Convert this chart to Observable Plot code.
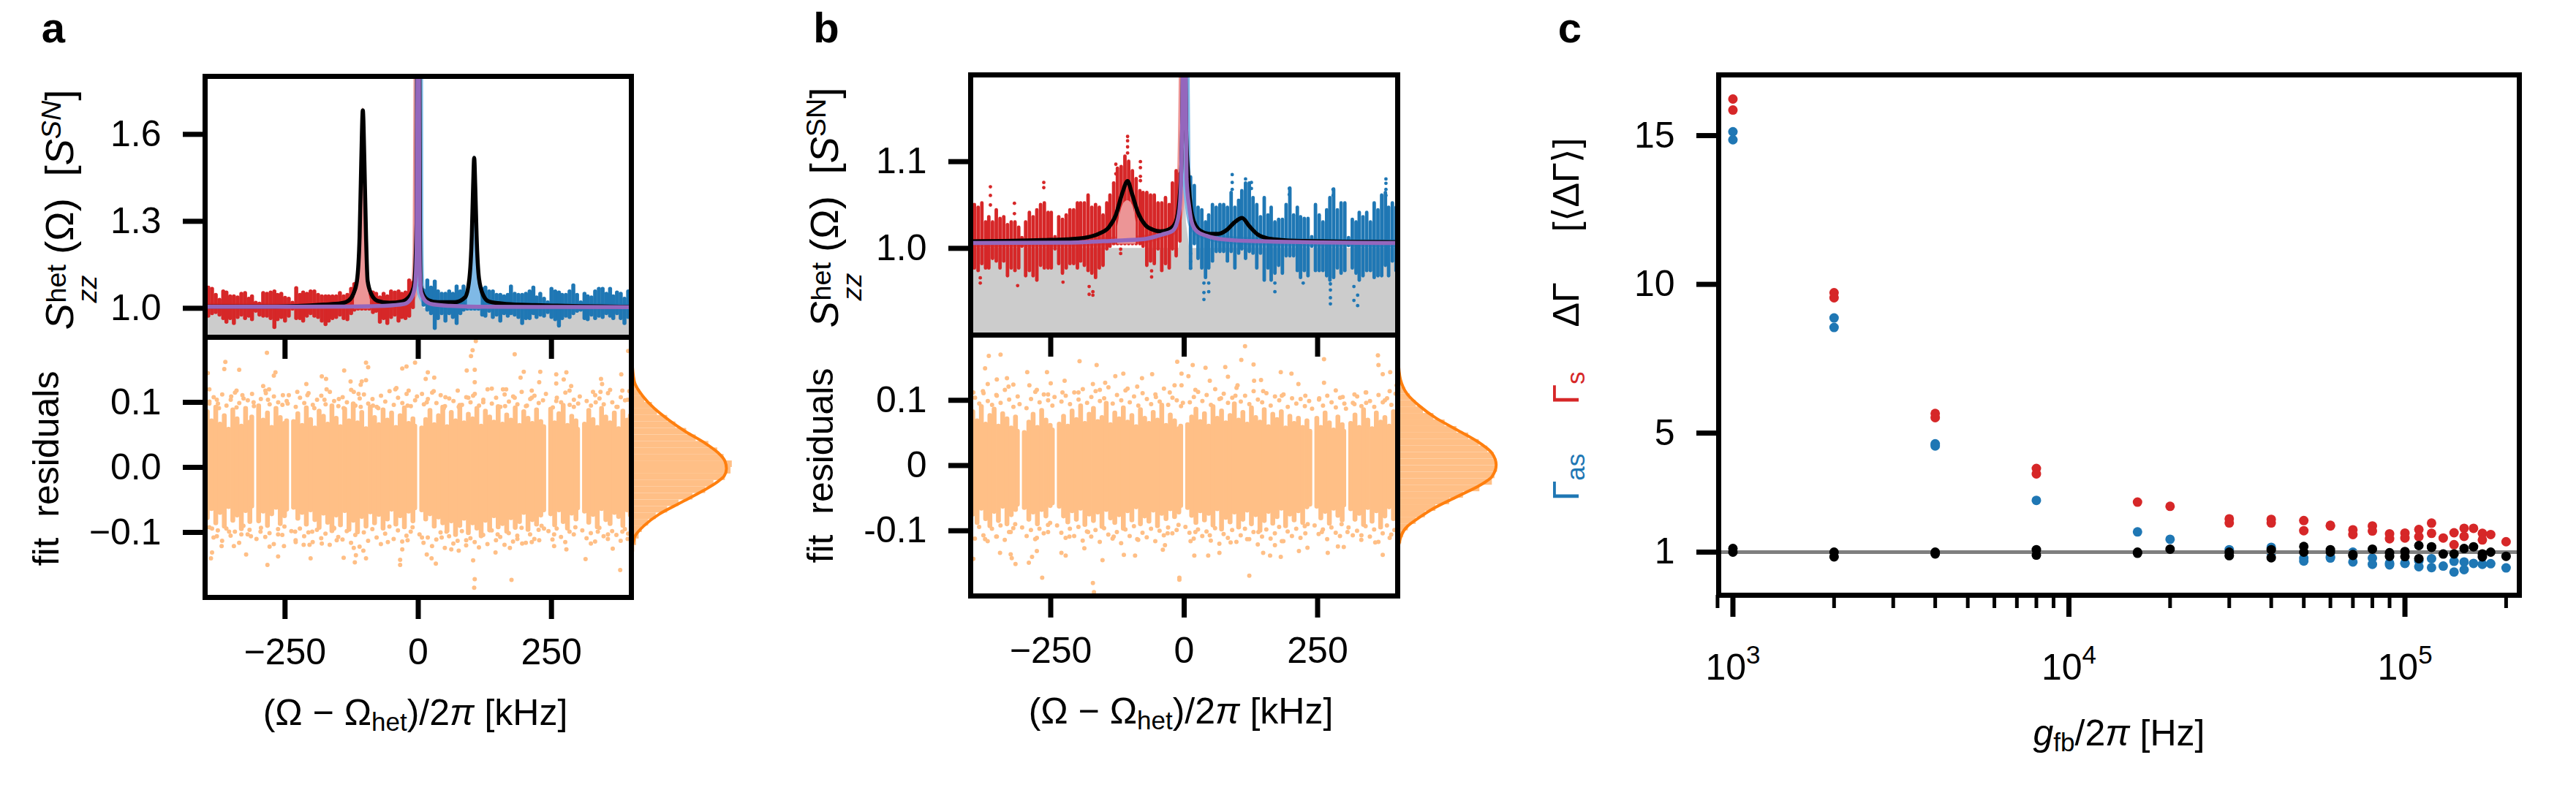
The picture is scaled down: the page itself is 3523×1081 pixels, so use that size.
<!DOCTYPE html>
<html><head><meta charset="utf-8">
<script src="https://cdn.jsdelivr.net/npm/d3@7"></script>
<script src="https://cdn.jsdelivr.net/npm/@observablehq/plot@0.6"></script>
<style>
html,body{margin:0;padding:0;background:#fff}
#fig{position:relative;width:3523px;height:1081px;overflow:hidden;font-family:"Liberation Sans",Arial,sans-serif;color:#000}
.t{position:absolute;height:0;line-height:0;white-space:pre;transform-origin:0 0}
.ss{display:inline-block;position:relative;width:1.25em;height:0}
.ss .u,.ss .d{position:absolute;left:.02em;font-size:.7em;line-height:0}
.ss .u{top:-.62em}.ss .d{top:.5em}
.sb{position:relative;top:.22em;font-size:.7em;line-height:0}
.sp{position:relative;top:-.45em;font-size:.7em;line-height:0}
</style></head><body><div id="fig"></div>
<script>
// ---------- panel a: spectrum envelope
const aRedX=[-394,-387,-380,-373,-366,-360,-353,-346,-339,-332,-325,-318,-312,-305,-298,-291,-284,-277,-270,-264,-257,-250,-243,-236,-229,-222,-216,-209,-202,-195,-188,-181,-174,-168,-161,-154,-147,-140,-133,-126,-120,-113,-106,-99,-92,-85,-79,-72,-65,-58,-51,-44,-37,-31,-24,-17,-10];
const aRedHi=[1.070,1.066,1.045,1.028,1.057,1.053,1.040,1.040,1.036,1.049,1.051,1.032,1.040,1.018,1.015,1.051,1.049,1.053,1.057,1.045,1.049,1.035,1.032,1.018,1.068,1.045,1.053,1.049,1.057,1.057,1.045,1.040,1.040,1.040,1.040,1.040,1.051,1.040,1.045,1.066,1.082,1.05,1.05,1.05,1.061,1.053,1.049,1.036,1.049,1.040,1.057,1.053,1.057,1.049,1.053,1.095,1.087];
const aRedLo=[.973,.982,.986,.977,.965,.952,.965,.948,.969,.977,.965,.973,.961,.990,.977,.973,.973,.965,.934,.961,.969,.956,.973,.998,.965,.965,.956,.973,.982,.973,.969,.956,.944,.956,.965,.969,.977,.965,.961,.982,.994,.998,.998,.998,.998,.986,.990,.952,.965,.948,.969,.977,.956,.969,.965,.973,1.003];
const aBlueX=[10,17,24,31,37,44,51,58,65,72,79,85,92,99,106,113,120,126,133,140,147,154,161,168,174,181,188,195,202,209,216,222,229,236,243,250,257,264,270,277,284,291,298,305,312,318,325,332,339,346,353,360,366,373,380,387,394];
const aBlueHi=[1.061,1.095,1.070,1.091,1.057,1.049,1.049,1.057,1.049,1.074,1.057,1.074,1.05,1.05,1.05,1.05,1.066,1.070,1.057,1.057,1.045,1.045,1.040,1.045,1.074,1.049,1.045,1.045,1.049,1.057,1.070,1.036,1.049,1.032,1.019,1.066,1.057,1.053,1.045,1.045,1.057,1.078,1.045,1.019,1.049,1.040,1.036,1.057,1.066,1.066,1.049,1.066,1.040,1.053,1.049,1.032,1.057];
const aBlueLo=[1.011,.994,.982,.931,.965,.982,.956,.982,.969,.948,.982,.994,.998,.998,.998,.998,.977,.973,.990,.969,.977,.956,.982,.973,.982,.977,.969,.948,.965,.965,.982,.969,.977,.973,.986,.969,.961,.939,.965,.973,.969,.982,.990,.994,.965,.961,.977,.965,.973,.969,.982,.973,.965,.982,.965,.948,.969];
// ---------- panel b: spectrum envelope and outlying points
const bRedX=[-393,-386,-379,-372,-366,-359,-352,-345,-338,-331,-324,-317,-310,-304,-297,-290,-283,-276,-269,-262,-255,-249,-242,-235,-228,-221,-214,-207,-200,-194,-187,-180,-173,-166,-159,-152,-145,-139,-132,-125,-118,-111,-104,-97,-90,-83,-77,-70,-63,-56,-49,-42,-35,-28,-22,-15,-8];
const bRedHi=[1.050,1.047,1.052,1.030,1.036,1.030,1.044,1.034,1.036,1.027,1.030,1.030,1.024,1.012,1.030,1.041,1.036,1.044,1.050,1.052,1.041,1.041,1.013,1.036,1.033,1.038,1.044,1.044,1.052,1.052,1.052,1.061,1.047,1.050,1.047,1.038,1.052,1.061,1.075,1.092,1.094,1.106,1.100,1.089,1.080,1.066,1.064,1.064,1.061,1.061,1.052,1.052,1.058,1.050,1.075,1.089,1.086];
const bRedLo=[.977,.974,.982,.977,.977,.988,.985,.977,.985,.968,.977,.974,.977,1.002,.968,.974,.968,.963,.980,.977,.977,.977,.999,.982,.971,.977,.982,.982,.977,.985,.980,.974,.971,.966,.977,.980,.999,1.002,1.005,1.005,1.005,1.005,1.005,1.005,1.005,1.005,1.002,.980,.985,.982,.999,.974,.982,.977,.999,.991,1.008];
const bRedDotX=[-363,-363,-363,-382,-382,-263,-263,-318,-318,-128,-128,-82,-82,-82,-82,-106,-106,-106,-106,-171,-171,-178,-178,-312,-61,-61,-227,-119,-119];
const bRedDotY=[1.071,1.061,1.050,.960,.966,1.076,1.070,1.052,1.040,1.097,1.086,1.100,1.093,1.083,1.078,1.129,1.124,1.117,1.110,.946,.950,.947,.956,.957,.967,.974,.961,.999,.994];
const bBlueX=[12,19,26,33,40,46,53,60,67,74,81,88,95,102,108,115,122,129,136,143,150,157,163,170,177,184,191,198,205,212,218,225,232,239,246,253,260,267,273,280,287,294,301,308,315,322,328,335,342,349,356,363,370,377,383,390,397];
const bBlueHi=[1.082,1.072,1.047,1.044,1.030,1.038,1.050,1.047,1.050,1.050,1.047,1.064,1.047,1.055,1.066,1.075,1.075,1.058,1.050,1.036,1.058,1.038,1.047,1.030,1.033,1.033,1.050,1.069,1.038,1.047,1.036,1.034,1.034,1.013,1.050,1.038,1.030,1.044,1.058,1.068,1.044,1.052,1.052,1.012,1.033,1.030,1.041,1.036,1.041,1.030,1.052,1.044,1.061,1.064,1.047,1.052,1.047];
const bBlueLo=[.977,1.005,.988,.977,.966,.977,.985,.996,.996,.996,.985,.996,.977,.994,.999,.988,.996,.994,.977,.994,.963,.977,.963,.971,.980,.971,.991,.991,.991,.974,.966,.974,.968,1.002,.974,.974,.974,.968,.963,.966,.977,.971,.974,1.003,.977,.971,.963,.968,.974,.974,.966,.968,.968,.980,.968,.985,.974];
const bBlueDotX=[90,90,90,37,37,37,46,46,170,170,274,274,274,274,325,325,318,318,197,197,378,378,378,378,279,279,115,126,126,12,12,12,223];
const bBlueDotY=[1.085,1.076,1.068,.941,.949,.960,.950,.960,.950,.960,.936,.943,.952,.959,.934,.946,.940,.956,1.069,1.062,1.080,1.075,1.068,1.061,1.068,1.061,1.080,1.076,1.069,.994,.985,.977,.960];
// ---------- fitted curves
const aBlackX=[-400,-268,-177,-145,-131,-122,-115,-110,-107,-104,-101,-98,-95,-88,-77,-54,-31,-17,-8,-3,0,3,4.6,10,19,37,69,88,96,100.5,103,105,107,109.5,114,122,133,165,220,400];
const aBlackY=[1.006,1.006,1.0126,1.017,1.026,1.049,1.095,1.25,1.5,1.683,1.5,1.25,1.095,1.049,1.026,1.019,1.023,1.04,1.078,1.3,3,1.3,1.078,1.045,1.028,1.021,1.021,1.038,1.103,1.25,1.42,1.519,1.42,1.25,1.103,1.045,1.023,1.015,1.011,1.005];
const aFitX=[-400,-131,-63,-26,-13,-6,-3,-1,0,1,2,3.2,5.5,14.6,28,60,129,400];
const aFitY=[1.005,1.006,1.0085,1.015,1.0345,1.078,1.2,1.9,3,2.2,1.3,1.11,1.053,1.0234,1.0134,1.0083,1.005,1.004];
const bBlackX=[-400,-265,-219,-183,-160,-141,-128,-116,-106,-98,-86.5,-73,-59,-45,-31.6,-20,-13.3,-8.7,-5,-2,0,2,4,7.3,11.9,18.8,30.2,46.2,64.5,80.5,94.3,108.6,121.7,137.7,156,179,224.7,400];
const bBlackY=[1.008,1.0095,1.0104,1.0126,1.0168,1.0244,1.0384,1.0636,1.0776,1.0636,1.0412,1.0271,1.0216,1.0196,1.021,1.0258,1.0355,1.058,1.1,1.25,1.6,1.25,1.13,1.086,1.0496,1.03,1.0202,1.0168,1.0168,1.0216,1.03,1.035,1.0258,1.016,1.0115,1.0098,1.0084,1.007];
const bFitX=[-400,-219,-128,-73,-41,-22,-13.3,-8,-5,-2,0,2,4.5,9.6,14.2,23.3,41.6,73.7,133,400];
const bFitY=[1.0061,1.0065,1.009,1.0109,1.016,1.02,1.03,1.05,1.1,1.25,1.6,1.25,1.08,1.047,1.03,1.02,1.0145,1.0103,1.0082,1.0061];
const grayAX=[-400,-10,-5,-2,0,2,5,10,400], grayAY=[1,1,1.05,1.4,3,1.4,1.05,1,1];
const grayBX=[-400,-10,-4,-1.5,0,1.5,4,10,400], grayBY=[1,1,1.03,1.1,1.3,1.1,1.03,1,1];
const paleARedX=[-120,-115,-110,-107,-104,-101,-98,-95,-90], paleARedY=[1.03,1.1,1.27,1.52,1.694,1.52,1.27,1.1,1.03];
const paleABlueX=[92,96,100.5,103,105,107,109.5,114,118], paleABlueY=[1.03,1.11,1.27,1.44,1.527,1.44,1.27,1.11,1.03];
const paleBRedX=[-125,-115,-106,-97,-90], paleBRedY=[1.025,1.05,1.055,1.05,1.03];
// ---------- residual scatter: dense columns and the points read around them
const resColX=[-396,-388,-380,-372,-364,-356,-348,-340,-332,-324,-316,-312.5,-299.5,-291,-283,-275,-267,-259,-251,-247,-234,-226,-218,-210,-202,-194,-186,-178,-170,-162,-154,-146,-138,-130,-122,-114,-106,-98,-90,-82,-74,-66,-58,-50,-42,-34,-26,-18,-10,-6.5,6.5,14,22,30,38,46,54,62,70,78,86,94,102,110,118,126,134,142,150,158,166,174,182,190,198,206,214,222,230,235.5,248.5,256,264,272,280,288,296,299,312,320,328,336,344,352,360,368,376,384,392,398];
const colAHi=[.085,.071,.092,.066,.079,.058,.088,.074,.063,.090,.069,.077,.094,.072,.083,.061,.090,.076,.067,.071,.070,.082,.064,.091,.073,.060,.086,.078,.066,.094,.075,.062,.089,.071,.097,.068,.084,.059,.092,.076,.065,.088,.072,.083,.061,.079,.091,.067,.074,.063,.060,.073,.087,.065,.079,.092,.062,.084,.071,.095,.068,.081,.074,.090,.063,.086,.077,.069,.093,.066,.080,.072,.091,.064,.085,.075,.067,.088,.070,.062,.089,.068,.082,.095,.064,.078,.071,.058,.066,.087,.073,.061,.090,.077,.068,.083,.059,.086,.072,.079];
const colALo=[-.078,-.064,-.086,-.070,-.091,-.061,-.082,-.074,-.095,-.067,-.084,-.060,-.083,-.068,-.090,-.072,-.062,-.087,-.075,-.065,-.062,-.079,-.070,-.088,-.066,-.081,-.093,-.071,-.085,-.098,-.074,-.089,-.067,-.096,-.082,-.100,-.076,-.091,-.069,-.086,-.073,-.094,-.080,-.065,-.088,-.075,-.092,-.068,-.083,-.063,-.066,-.080,-.072,-.091,-.077,-.086,-.098,-.083,-.104,-.090,-.079,-.101,-.086,-.094,-.106,-.082,-.097,-.075,-.092,-.087,-.099,-.078,-.093,-.084,-.070,-.096,-.081,-.088,-.074,-.066,-.072,-.089,-.066,-.084,-.094,-.071,-.080,-.063,-.068,-.085,-.073,-.092,-.064,-.081,-.087,-.070,-.076,-.090,-.066,-.074];
const colBHi=[.082,.068,.090,.063,.076,.086,.060,.079,.071,.057,.074,.052,.050,.066,.078,.058,.084,.069,.061,.054,.063,.075,.060,.083,.070,.091,.064,.078,.087,.067,.073,.095,.062,.080,.071,.088,.066,.076,.059,.085,.072,.064,.081,.069,.092,.061,.077,.068,.056,.060,.062,.074,.086,.067,.079,.060,.090,.072,.083,.065,.076,.094,.069,.081,.063,.088,.073,.066,.085,.059,.078,.070,.082,.057,.075,.064,.072,.058,.068,.052,.072,.058,.080,.065,.054,.074,.062,.052,.064,.077,.058,.085,.069,.056,.080,.066,.073,.060,.082,.071];
const colBLo=[-.075,-.088,-.066,-.082,-.093,-.071,-.085,-.063,-.090,-.076,-.068,-.060,-.065,-.083,-.072,-.090,-.068,-.078,-.062,-.058,-.063,-.078,-.087,-.070,-.083,-.066,-.091,-.075,-.085,-.072,-.094,-.068,-.081,-.088,-.076,-.097,-.070,-.084,-.064,-.090,-.078,-.086,-.069,-.093,-.074,-.082,-.067,-.079,-.072,-.062,-.065,-.077,-.088,-.070,-.084,-.074,-.092,-.067,-.098,-.080,-.087,-.072,-.095,-.083,-.069,-.090,-.076,-.100,-.085,-.071,-.089,-.079,-.066,-.093,-.075,-.084,-.070,-.088,-.064,-.060,-.063,-.081,-.071,-.089,-.066,-.077,-.084,-.061,-.067,-.083,-.074,-.091,-.065,-.086,-.070,-.095,-.078,-.064,-.082,-.072];
const fringeAUp=[.101,.108,.098,.112,.095,.104,.115,.099,.106,.103,.113,.094,.105,.118,.097,.109,.100,.096,.102,.111,.093,.107,.099,.114,.096,.104,.110,.097,.116,.102,.094,.108,.100,.119,.095,.106,.112,.098,.105,.093,.110,.101,.117,.096,.107,.099,.113,.094,.103,.109,.097,.105,.115,.099,.111,.094,.106,.102,.118,.096,.108,.100,.113,.095,.104,.120,.098,.107,.093,.112,.101,.109,.097,.116,.094,.105,.110,.099,.103,.113,.092,.107,.100,.115,.096,.104,.098,.109,.102,.095,.111,.106,.097,.114,.100,.093,.108,.103,.117,.098];
const fringeALo=[-.101,-.092,-.108,-.097,-.113,-.094,-.105,-.099,-.116,-.090,-.103,-.096,-.110,-.093,-.107,-.101,-.118,-.095,-.104,-.091,-.098,-.112,-.094,-.106,-.100,-.115,-.096,-.109,-.102,-.119,-.093,-.107,-.111,-.098,-.116,-.104,-.122,-.100,-.113,-.095,-.108,-.118,-.102,-.091,-.110,-.097,-.114,-.105,-.099,-.092,-.103,-.116,-.108,-.121,-.111,-.100,-.124,-.106,-.117,-.113,-.098,-.120,-.109,-.115,-.123,-.104,-.118,-.097,-.112,-.107,-.119,-.101,-.114,-.105,-.093,-.116,-.103,-.110,-.096,-.090,-.098,-.111,-.094,-.107,-.115,-.099,-.103,-.092,-.097,-.109,-.101,-.114,-.093,-.106,-.110,-.098,-.104,-.113,-.095,-.102];
const fringeBUp=[.104,.095,.111,.099,.093,.108,.096,.116,.101,.090,.106,.094,.088,.102,.113,.097,.109,.100,.092,.105,.098,.107,.094,.112,.101,.117,.096,.105,.114,.099,.103,.120,.095,.108,.100,.115,.097,.106,.092,.111,.102,.094,.109,.098,.118,.093,.104,.100,.091,.096,.097,.105,.113,.099,.108,.093,.117,.102,.110,.096,.104,.119,.098,.107,.094,.114,.101,.097,.111,.092,.106,.100,.109,.090,.103,.095,.102,.091,.099,.087,.101,.092,.107,.097,.089,.104,.095,.087,.096,.106,.091,.112,.099,.090,.108,.097,.103,.093,.110,.100];
const fringeBLo=[-.100,-.112,-.094,-.107,-.116,-.097,-.109,-.092,-.114,-.102,-.096,-.090,-.095,-.108,-.099,-.113,-.097,-.104,-.091,-.088,-.092,-.103,-.111,-.097,-.108,-.094,-.115,-.101,-.109,-.099,-.117,-.096,-.106,-.112,-.102,-.119,-.098,-.108,-.093,-.114,-.103,-.110,-.097,-.116,-.100,-.107,-.095,-.104,-.099,-.091,-.094,-.103,-.112,-.098,-.108,-.101,-.115,-.096,-.120,-.105,-.111,-.099,-.117,-.107,-.097,-.113,-.102,-.121,-.109,-.098,-.112,-.104,-.094,-.116,-.101,-.108,-.097,-.111,-.093,-.090,-.092,-.105,-.098,-.113,-.095,-.103,-.108,-.090,-.095,-.107,-.100,-.114,-.093,-.109,-.098,-.117,-.104,-.092,-.106,-.099];
const resAX=[-284,-362,-364,-336,-395,-268,-271,-291,-280,-286,-210,-181,-173,-172,-139,-127,-98,-94,-106,-98,-108,-30,-22,-6,-41,-18,7,18,30,14,29,91,106,106,108,102,99,181,198,192,229,227,259,278,259,273,287,284,343,345,381,394,393,328,342,360,383,138,159,165,94,51,213,213,181,103,76,-43,-75,-112,-121,-149,-176,-227,-208,-254,-341,-330,-351,-378,-392,-392,-374,-341,-309,-282,-245,-195,-140,-108,-85,-20,16,48,122,163,204,259,292,333,374,-387,-369,-389,-346,-323,-279,-283,-263,-252,-230,-215,-204,-202,-181,-140,-121,-117,-119,-103,-98,-34,-34,-30,16,25,33,103,106,105,175,145,172,195,213,227,255,278,314,324,365,379,393,90,76,62,44,-387,-355,-332,-378,-314,-296,-263,-231,-199,-158,-153,-57,-20,7,53,149,186,236,255,337,356,383];
const resAY=[.176,.162,.151,.150,.145,.146,.141,.125,.120,.114,.128,.140,.136,.120,.149,.132,.161,.154,.132,.134,.127,.152,.155,.161,.122,.118,.113,.146,.138,.136,.117,.149,.150,.131,.194,.180,.171,.174,.147,.138,.147,.131,.143,.146,.129,.135,.125,.118,.136,.128,.143,.179,.104,.116,.116,.119,.118,.121,.120,.120,.107,.108,.118,.107,.107,.110,.093,.120,.091,.113,.116,.105,.104,.116,.111,.111,.118,.111,.109,.104,.120,.098,.091,.092,.100,.104,.098,.091,.091,.093,.095,.095,.100,.091,.100,.094,.095,.102,.093,.100,.093,-.131,-.121,-.140,-.121,-.134,-.122,-.150,-.137,-.121,-.115,-.119,-.119,-.140,-.117,-.139,-.124,-.135,-.146,-.128,-.140,-.142,-.150,-.126,-.134,-.140,-.148,-.143,-.172,-.185,-.173,-.131,-.124,-.117,-.115,-.112,-.121,-.126,-.141,-.117,-.125,-.158,-.110,-.112,-.128,-.126,-.108,-.094,-.099,-.103,-.106,-.106,-.099,-.103,-.099,-.099,-.094,-.112,-.115,-.112,-.108,-.099,-.103,-.110,-.094,-.103,-.099,-.103,-.099];
const resBX=[-366,-344,-373,-294,-257,-196,-164,-224,-250,-171,-148,-129,-114,-79,-60,-13,-5,8,-18,-5,16,40,48,77,82,107,114,130,100,131,144,181,201,214,262,262,284,363,364,372,386,398,297,319,341,385,-368,-351,-332,-320,-329,-395,-377,-351,-290,-276,-255,-228,-198,-158,-106,-88,-53,-27,21,69,96,148,183,227,253,319,341,376,-395,-345,-325,-323,-316,-291,-285,-276,-266,-230,-222,-187,-153,-171,-169,-113,-92,-36,-40,-9,-9,19,45,66,122,148,161,181,215,231,269,288,299,372,-373,-351,-325,-276,-255,-215,-180,-132,-88,-31,12,21,48,87,118,139,170,183,227,258,306,332,358,385];
const resBY=[.168,.170,.149,.143,.143,.160,.154,.130,.126,.125,.127,.137,.141,.134,.140,.159,.141,.137,.123,.123,.154,.150,.130,.151,.136,.162,.183,.155,.123,.130,.131,.143,.141,.125,.163,.127,.115,.169,.154,.140,.143,.123,.105,.109,.112,.114,.125,.132,.134,.124,.121,.112,.114,.107,.123,.116,.109,.112,.112,.116,.118,.121,.105,.112,.116,.103,.107,.114,.107,.107,.103,.094,.096,.100,-.143,-.134,-.136,-.142,-.151,-.149,-.140,-.131,-.172,-.134,-.138,-.127,-.145,-.180,-.194,-.137,-.138,-.122,-.129,-.172,-.175,-.138,-.138,-.134,-.169,-.134,-.138,-.140,-.131,-.126,-.134,-.124,-.125,-.137,-.113,-.109,-.102,-.111,-.102,-.109,-.102,-.109,-.113,-.104,-.116,-.102,-.107,-.118,-.113,-.102,-.122,-.116,-.104,-.102,-.102,-.107,-.118,-.111];
// ---------- marginals
const histBinsLo=[-.2,-.19,-.18,-.17,-.16,-.15,-.14,-.13,-.12,-.11,-.1,-.09,-.08,-.07,-.06,-.05,-.04,-.03,-.02,-.01,0,.01,.02,.03,.04,.05,.06,.07,.08,.09,.1,.11,.12,.13,.14,.15,.16,.17,.18,.19];
const histA=[0,.03,.03,.05,.05,.08,.12,.25,.4,.6,.85,1.35,1.95,2.85,3.75,4.85,5.85,6.5,7.4,7.85,7.95,7.3,6.8,6.1,5.1,4.35,3.5,2.85,2.05,1.65,1.05,.7,.35,.2,.12,.1,.05,.05,.03,.03];
const histB=[.02,.02,.03,.03,.03,.06,.1,.15,.3,.45,.8,1.4,2.1,2.9,3.95,5.0,6.25,7.2,7.4,7.6,7.55,7.35,6.85,6.2,5.4,4.5,3.6,2.75,1.95,1.4,.95,.6,.3,.2,.12,.06,.05,.05,.03,.02];
const kdeAR=[.199,.168,.132,.109,.091,.073,.055,.037,.023,.0095,-.002,-.013,-.022,-.036,-.054,-.072,-.09,-.108,-.131,-.187];
const kdeAD=[0,.04,.23,.92,1.79,2.94,4.27,5.83,6.81,7.38,7.5,7.33,6.81,5.65,3.92,2.19,.98,.23,.04,0];
const kdeBR=[.186,.154,.132,.109,.092,.073,.055,.037,.019,.001,-.017,-.03,-.048,-.066,-.08,-.093,-.107,-.134,-.199];
const kdeBD=[0,.07,.21,.75,1.62,2.9,4.49,6.07,7.18,7.5,7.18,6.29,4.49,2.7,1.62,.75,.28,.03,0];
// ---------- panel c
const cRedX=[1e3,1e3,2e3,2e3,4e3,4e3,8e3,8e3,16e3,2e4,3e4,3e4,4e4,4e4,5e4,5e4,6e4,6e4,7e4,7e4,8e4,8e4,9e4,9e4,1e5,1e5,11e4,11e4,12e4,12e4,13e4,14e4,14e4,15e4,15e4,16e4,17e4,17e4,18e4,2e5];
const cRedY=[16.23,15.86,9.72,9.55,5.66,5.52,3.81,3.63,2.68,2.54,2.12,1.98,2.10,1.98,2.06,1.72,1.90,1.88,1.75,1.59,1.88,1.71,1.615,1.45,1.64,1.475,1.76,1.52,1.975,1.63,1.475,1.65,1.25,1.80,1.53,1.80,1.63,1.41,1.59,1.35];
const cBlueX=[1e3,1e3,2e3,2e3,4e3,4e3,8e3,16e3,2e4,3e4,4e4,4e4,5e4,5e4,6e4,6e4,7e4,7e4,8e4,8e4,9e4,9e4,1e5,1e5,11e4,11e4,12e4,12e4,13e4,14e4,14e4,15e4,15e4,16e4,17e4,18e4,2e5];
const cBlueY=[15.13,14.86,8.87,8.55,4.64,4.57,2.74,1.68,1.43,1.08,1.16,.96,.80,.70,.84,.80,1.0,.67,.80,.59,.63,.57,.63,.62,.71,.51,.78,.48,.53,.69,.33,.67,.41,.62,.59,.61,.47];
const cBlackX=[1e3,1e3,2e3,2e3,4e3,4e3,8e3,8e3,16e3,16e3,2e4,3e4,3e4,4e4,4e4,5e4,5e4,6e4,6e4,7e4,7e4,8e4,9e4,9e4,1e5,1e5,11e4,11e4,12e4,12e4,13e4,14e4,15e4,16e4,17e4,17e4,18e4,2e5];
const cBlackY=[1.12,1.0,1.0,.84,1.0,.94,1.08,.90,1.0,.96,1.10,1.0,.88,1.08,.81,1.19,1.0,1.08,1.0,.92,.89,1.10,.98,.86,1.02,.85,1.22,.78,1.16,1.18,.935,.94,1.12,1.18,.94,.84,1.0,.86];
const cMinorTicks=[900,2e3,3e3,4e3,5e3,6e3,7e3,8e3,9e3,2e4,3e4,4e4,5e4,6e4,7e4,8e4,9e4,2e5];
const specTicks=[-250,0,250];

// ---------- helpers
const RED="#d62728",BLUE="#1f77b4",PURPLE="#9467bd",ORANGE="#ff7f0e",PALEO="#ffbf86",PALER="#ec9596",PALEB="#7fb9e6",GRAY="#cccccc";
const FONT='"Liberation Sans",Arial,sans-serif';
const fig=document.getElementById("fig");
const xy=(xs,ys)=>xs.map((x,i)=>({x,y:ys[i]}));
const env=(xs,hi,lo)=>xs.map((x,i)=>({x,hi:hi[i],lo:lo[i]}));
function put(opts,L,T,W,H,mL=210,mR=12,mT=12,mB=50){
  const svg=Plot.plot({...opts,width:mL+W+mR,height:mT+H+mB,marginLeft:mL,marginRight:mR,marginTop:mT,marginBottom:mB,
    style:{background:"transparent",fontFamily:FONT,fontSize:"50px",overflow:"visible",maxWidth:"none"}});
  svg.style.position="absolute";svg.style.left=(L-mL)+"px";svg.style.top=(T-mT)+"px";
  svg.style.height=(mT+H+mB)+"px";svg.style.width=(mL+W+mR)+"px";
  fig.appendChild(svg);return svg;
}
function txt(html,x,y,{size=50,rot=0,color="#000",weight="normal"}={}){
  const d=document.createElement("div");d.className="t";d.innerHTML=html;
  d.style.cssText=`left:${x}px;top:${y}px;font-size:${size}px;color:${color};font-weight:${weight};transform:rotate(${rot}deg) translate(-50%,-.35em)`;
  fig.appendChild(d);return d;
}
const yAxis=(ticks,fmt)=>Plot.axisY({ticks,tickFormat:fmt,tickSize:30,tickPadding:30,strokeWidth:7,fontSize:50,label:null});
const frame=()=>Plot.frame({stroke:"#000",strokeWidth:7});

function spectrum(p){
  const c={clip:true};
  put({x:{domain:[-400,400]},y:{domain:p.yDomain},marks:[
    Plot.areaY(xy(p.grayX,p.grayY),{x:"x",y1:.9,y2:"y",fill:GRAY,...c}),
    Plot.line(xy(p.fitX,p.fitY).filter(d=>d.x<=0),{x:"x",y:"y",stroke:PALER,strokeWidth:11,curve:"monotone-x",...c}),
    Plot.line(xy(p.fitX,p.fitY).filter(d=>d.x>=0),{x:"x",y:"y",stroke:PALEB,strokeWidth:11,curve:"monotone-x",...c}),
    Plot.ruleX(env(p.redX,p.redHi,p.redLo),{x:"x",y1:"lo",y2:"hi",stroke:RED,strokeWidth:p.ruleW,strokeLinecap:"round",...c}),
    Plot.ruleX(env(p.blueX,p.blueHi,p.blueLo),{x:"x",y1:"lo",y2:"hi",stroke:BLUE,strokeWidth:p.ruleW,strokeLinecap:"round",...c}),
    ...(p.redDotX?[Plot.dot(xy(p.redDotX,p.redDotY),{x:"x",y:"y",r:2.4,fill:RED,...c}),Plot.dot(xy(p.blueDotX,p.blueDotY),{x:"x",y:"y",r:2.4,fill:BLUE,...c})]:[]),
    Plot.areaY(xy(p.paleRX,p.paleRY),{x:"x",y1:p.paleBase,y2:"y",fill:PALER,curve:"monotone-x",...c}),
    ...(p.paleBX?[Plot.areaY(xy(p.paleBX,p.paleBY),{x:"x",y1:p.paleBase,y2:"y",fill:PALEB,curve:"monotone-x",...c})]:[]),
    Plot.line(xy(p.blackX,p.blackY),{x:"x",y:"y",stroke:"#000",strokeWidth:5.5,curve:"monotone-x",...c}),
    Plot.line(xy(p.fitX,p.fitY),{x:"x",y:"y",stroke:PURPLE,strokeWidth:5.5,curve:"monotone-x",...c}),
    frame(),
    Plot.axisX({ticks:specTicks,tickFormat:()=>"",tickSize:30,strokeWidth:7,label:null}),
    yAxis(p.yTicks,p.yFmt)
  ]},p.L,p.T,p.W,p.H);
}
function residual(p){
  put({x:{domain:[-400,400]},y:{domain:[-.2,.2]},marks:[
    Plot.ruleX(env(resColX,p.hi,p.lo),{x:"x",y1:"lo",y2:"hi",stroke:PALEO,strokeWidth:6.6,strokeLinecap:"round",clip:true}),
    Plot.dot(xy(resColX,p.up),{x:"x",y:"y",r:3,dx:3,fill:PALEO,clip:true}),
    Plot.dot(xy(resColX,p.dn),{x:"x",y:"y",r:3,dx:-3,fill:PALEO,clip:true}),
    Plot.dot(xy(p.resX,p.resY),{x:"x",y:"y",r:3,fill:PALEO,clip:true}),
    frame(),
    Plot.axisX({ticks:specTicks,tickFormat:d=>d===0?"0":String(d).replace("-","\u2212"),tickSize:30,tickPadding:26,strokeWidth:7,fontSize:50,label:null}),
    yAxis([-.1,0,.1],p.yFmt)
  ]},p.L,p.T,p.W,p.H,210,12,12,100);
}
function marginal(p){
  put({x:{domain:p.dens,axis:null},y:{domain:[-.2,.2],axis:null},marks:[
    Plot.rectX(histBinsLo.map((lo,i)=>({lo,v:p.hist[i]})),{x1:0,x2:"v",y1:"lo",y2:d=>d.lo+.01,fill:PALEO,clip:true}),
    Plot.line(xy(p.kR,p.kD),{x:"y",y:"x",stroke:ORANGE,strokeWidth:4,curve:"monotone-y",clip:true})
  ]},p.L,p.T,p.W,p.H,0,2,12,12);
}

// ---------- draw order: lower panels first so that upper ticks sit on them
marginal({L:863,T:461,W:147,H:356,dens:[0,8.48],hist:histA,kR:kdeAR,kD:kdeAD});
residual({L:280,T:461,W:583,H:356,hi:colAHi,lo:colALo,up:fringeAUp,dn:fringeALo,resX:resAX,resY:resAY,
  yFmt:d=>d===0?"0.0":(d<0?"\u22120.1":"0.1")});
spectrum({L:280,T:104,W:583,H:357,yDomain:[.9,1.8],yTicks:[1,1.3,1.6],yFmt:d3.format(".1f"),
  grayX:grayAX,grayY:grayAY,fitX:aFitX,fitY:aFitY,blackX:aBlackX,blackY:aBlackY,
  redX:aRedX,redHi:aRedHi,redLo:aRedLo,blueX:aBlueX,blueHi:aBlueHi,blueLo:aBlueLo,ruleW:5.5,
  paleRX:paleARedX,paleRY:paleARedY,paleBX:paleABlueX,paleBY:paleABlueY,paleBase:.998});
marginal({L:1911,T:458,W:139,H:357,dens:[0,7.74],hist:histB,kR:kdeBR,kD:kdeBD});
residual({L:1327,T:458,W:584,H:357,hi:colBHi,lo:colBLo,up:fringeBUp,dn:fringeBLo,resX:resBX,resY:resBY,
  yFmt:d=>d===0?"0":(d<0?"-0.1":"0.1")});
spectrum({L:1327,T:102,W:584,H:356,yDomain:[.9,1.2],yTicks:[1,1.1],yFmt:d3.format(".1f"),
  grayX:grayBX,grayY:grayBY,fitX:bFitX,fitY:bFitY,blackX:bBlackX,blackY:bBlackY,
  redX:bRedX,redHi:bRedHi,redLo:bRedLo,blueX:bBlueX,blueHi:bBlueHi,blueLo:bBlueLo,ruleW:4.8,
  redDotX:bRedDotX,redDotY:bRedDotY,blueDotX:bBlueDotX,blueDotY:bBlueDotY,
  paleRX:paleBRedX,paleRY:paleBRedY,paleBase:1.005});
// panel c
const svgC=put({x:{type:"log",domain:[907,219000]},y:{domain:[-.45,17.04]},marks:[
  Plot.dot(xy(cBlueX,cBlueY),{x:"x",y:"y",r:6.5,fill:BLUE}),
  Plot.dot(xy(cRedX,cRedY),{x:"x",y:"y",r:6.5,fill:RED}),
  Plot.ruleY([1],{stroke:"#7f7f7f",strokeWidth:5}),
  Plot.dot(xy(cBlackX,cBlackY),{x:"x",y:"y",r:6.5,fill:"#000"}),
  frame(),
  Plot.axisX({ticks:cMinorTicks,tickFormat:()=>"",tickSize:18,strokeWidth:5,label:null}),
  Plot.axisX({ticks:[1e3,1e4,1e5],tickFormat:d=>"10^"+Math.round(Math.log10(d)),tickSize:30,tickPadding:50,strokeWidth:7,fontSize:50,label:null}),
  yAxis([1,5,10,15],d=>String(d))
]},2350,102,1095,712,210,90,12,130);
// exponents of the log axis as real superscripts
d3.select(svgC).selectAll("text").each(function(){
  const t=this.textContent;const m=/^10\^(\d)$/.exec(t);
  if(m){const s=d3.select(this);s.text("10");s.append("tspan").attr("font-size",35).attr("dy","-0.62em").text(m[1]);}
});

// ---------- text
txt("<b>a</b>",73,58,{size:58}); txt("<b>b</b>",1130,58,{size:58}); txt("<b>c</b>",2147,58,{size:58});
const sLabel=sn=>`<i>S</i><span class="ss"><span class="u">het</span><span class="d"><i>zz</i></span></span>(\u03a9)  [<i>S</i><span class="sp">${sn}</span>]`;
txt(sLabel("<i>SN</i>"),100,287,{rot:-90,size:54});
txt(sLabel("SN"),1146,284,{rot:-90,size:54});
txt("fit  residuals",80,641,{rot:-90});
txt("fit  residuals",1139,637,{rot:-90});
const xt=`(\u03a9 \u2212 \u03a9<span class="sb">het</span>)/2<i>\u03c0</i> [kHz]`;
txt(xt,568,992); txt(xt,1615,990);
txt(`<i>g</i><span class="sb">fb</span>/2<i>\u03c0</i> [Hz]`,2898,1020);
txt(`\u0393<span class="sb">as</span>`,2159,653,{rot:-90,color:BLUE});
txt(`\u0393<span class="sb">s</span>`,2159,531,{rot:-90,color:RED});
txt(`\u0394\u0393`,2159,417,{rot:-90});
txt(`[\u27e8\u0394\u0393\u27e9]`,2159,253,{rot:-90});
</script></body></html>
